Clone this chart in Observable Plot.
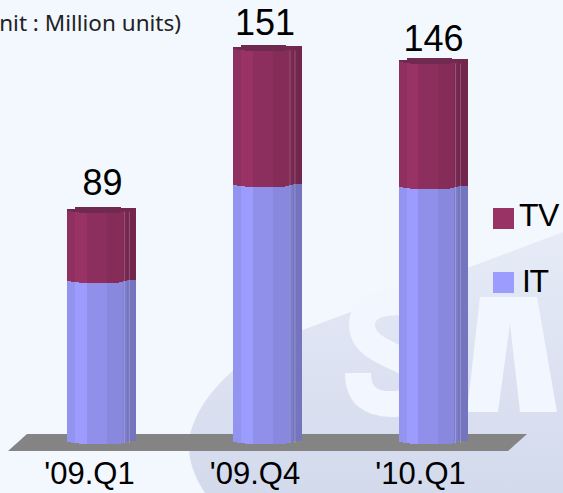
<!DOCTYPE html>
<html><head><meta charset="utf-8">
<script src="https://cdn.jsdelivr.net/npm/d3@7"></script>
<script src="https://cdn.jsdelivr.net/npm/@observablehq/plot@0.6"></script>
<style>
html,body{margin:0;padding:0;width:563px;height:493px;overflow:hidden;background:#f3f7fe;font-family:"Liberation Sans",Arial,sans-serif}
#wrap{position:relative;width:563px;height:493px;overflow:hidden}
#wrap>*{position:absolute}
#chart svg{display:block;background:transparent}
.lg{color:#000;font-size:32px;line-height:30px;letter-spacing:-1.5px}
.sw{width:21px;height:21px}
#unit{left:-100px;width:281px;top:7px;text-align:right;font:22.5px "Noto Sans",sans-serif;color:#222;white-space:nowrap}
</style></head>
<body>
<div id="wrap">
<svg id="bg" width="563" height="493" style="left:0;top:0">
  <defs><linearGradient id="wm" x1="0" y1="232" x2="0" y2="493" gradientUnits="userSpaceOnUse">
    <stop offset="0" stop-color="#e6ebf7"/><stop offset="1" stop-color="#d3daec"/></linearGradient></defs>
  <path d="M205 493C190 470 183 445 195 420C210 385 250 350 300 331L563 232L563 493Z" fill="url(#wm)"/>
  <path d="M420 305C385 298 362 305 362 325C362 345 385 352 405 362C425 372 420 403 395 404C370 405 358 395 358 373" fill="none" stroke="#f2f6fe" stroke-width="26"/>
  <path d="M480 297L537 297L557 412L520 412L510 323L498 412L467 412Z" fill="#f2f6fe"/>
  <polygon points="27,434 527,434 508,451 8,451" fill="#848484"/>
</svg>
<div id="chart" style="left:0;top:0"></div>
<div id="unit">(Unit : Million units)</div>
<div class="sw" style="left:493px;top:208px;background:#993366"></div>
<div class="lg" style="left:519px;top:200px;letter-spacing:-.5px">TV</div>
<div class="sw" style="left:493px;top:272px;background:#9c9cff"></div>
<div class="lg" style="left:522px;top:266px">IT</div>
</div>
<script>
const quarters = ["'09.Q1", "'09.Q4", "'10.Q1"];
const itValues = [62, 99, 98];
const tvValues = [27, 52, 48];
const totals = [89, 151, 146];

const itColor = "#9c9cff", tvColor = "#993366", capColor = "#702a50";
// Column shading: one entry for each narrow vertical strip of a cylinder
const shade = [.94,.94,1,1,1,.92,.92,.92,.92,.92,.87,.87,.87,.87,.8,.75,.75];
const wobble = [-1,0,0,1,1,1,1,1,1,1,1,1,1,0,-1,-2,-2];
const capRise = [2,3,5,6,6,6,6,6,6,6,6,6,6,4,3,2,2];
const labelGap = [-17,-16,-13];
const labelShift = [0,-3,0];

const rows = quarters.map((q,i)=>({q, it:itValues[i], tv:tvValues[i], total:totals[i]}));
const tint = (c,k)=>{const o=d3.color(c);return d3.rgb(o.r*k,o.g*k,o.b*k).formatHex();};

const marks = [];
const crisp = {shapeRendering:"crispEdges",insetLeft:-.6,insetRight:-.6};
shade.forEach((k,s)=>{
  marks.push(Plot.barY(rows,{fx:"q",x:()=>s,y1:"total",y2:"total",fill:capColor,insetTop:-capRise[s],dy:wobble[s],...crisp}));
  marks.push(Plot.barY(rows,{fx:"q",x:()=>s,y1:"it",y2:"total",fill:tint(tvColor,k),dy:wobble[s],...crisp}));
  marks.push(Plot.barY(rows,{fx:"q",x:()=>s,y1:0,y2:"it",fill:tint(itColor,k),dy:wobble[s],...crisp}));
});
marks.push(Plot.ruleX(rows,{fx:"q",x:()=>14,y1:0,y2:"total",stroke:"#fff",strokeOpacity:.22,dx:-2}));
marks.push(Plot.ruleX(rows,{fx:"q",x:()=>15,y1:0,y2:"total",stroke:"#fff",strokeOpacity:.22,dx:-1}));
rows.forEach((r,i)=>marks.push(Plot.text([r],{fx:"q",x:()=>8,y:"total",text:d=>String(d.total),fontSize:36,fill:"#000",lineAnchor:"bottom",dy:labelGap[i],dx:labelShift[i]})));
marks.push(Plot.axisFx({anchor:"bottom",fontSize:31,tickSize:0,tickPadding:18,dx:-13,label:null,color:"#000"}));

const chart = Plot.plot({
  width:563,height:493,
  marginLeft:68,marginRight:96,marginTop:0,marginBottom:50,
  style:{background:"transparent",fontFamily:"Liberation Sans",overflow:"visible"},
  fx:{domain:quarters,paddingInner:.59,paddingOuter:0,round:false,label:null},
  x:{type:"band",domain:d3.range(shade.length),padding:0,round:false,axis:null},
  y:{domain:[0,170.4],axis:null},
  marks
});
document.getElementById("chart").appendChild(chart);
</script>
</body></html>
